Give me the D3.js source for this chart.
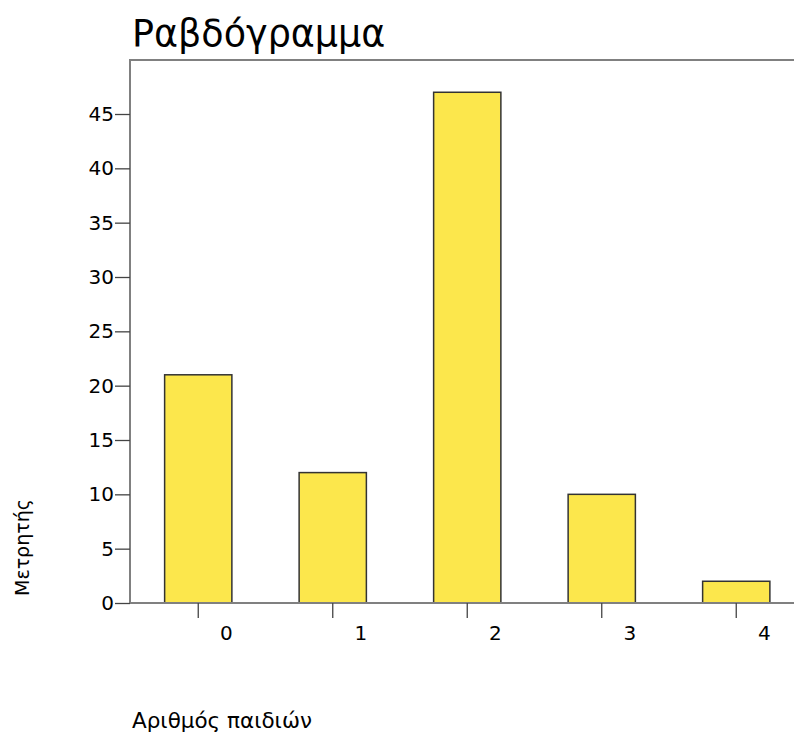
<!DOCTYPE html>
<html><head><meta charset="utf-8">
<script src="https://cdn.jsdelivr.net/npm/d3@7"></script>
<style>body{margin:0;background:#fff;} svg{display:block;}</style>
</head><body>
<svg id="c" width="794" height="733"></svg>
<script>
const categories = ["0","1","2","3","4"];
const counts = [21, 12, 47, 10, 2];
const yTicks = [0,5,10,15,20,25,30,35,40,45];
const title = "Ραβδόγραμμα";
const yLabel = "Μετρητής";
const xLabel = "Αριθμός παιδιών";

(function(){
const svg = d3.select("#c");
const font = "DejaVu Sans, Verdana, sans-serif";
const mLeft = 130, mTop = 60, mBottom = 603;
const x = d3.scaleBand().domain(categories).range([mLeft + 1, mLeft + 1 + 5*134.5]).paddingInner(0.5).paddingOuter(0.25);
const y = d3.scaleLinear().domain([0, 45]).range([mBottom, 114]);

svg.append("path").attr("d", `M${mLeft},${mBottom}V${mTop}H794`).attr("fill","none").attr("stroke","#808080").attr("stroke-width",2);

svg.selectAll("rect.bar").data(counts).join("rect")
  .attr("x",(d,i)=>x(categories[i])).attr("width",x.bandwidth())
  .attr("y",d=>y(d)).attr("height",d=>mBottom-y(d))
  .attr("fill","#fce74c").attr("stroke","#333").attr("stroke-width",1.5);

svg.append("line").attr("x1",mLeft).attr("x2",794).attr("y1",mBottom).attr("y2",mBottom).attr("stroke","#808080").attr("stroke-width",2);

const yAxis = d3.axisLeft(y).tickValues(yTicks).tickSize(15).tickPadding(1);
const gy = svg.append("g").attr("transform",`translate(${mLeft},0)`).call(yAxis);
gy.select(".domain").remove();
gy.selectAll(".tick line").attr("stroke","#444").attr("stroke-width",1.3);
gy.selectAll(".tick text").attr("font-family",font).attr("font-size",20).attr("fill","#000");

const xAxis = d3.axisBottom(x).tickSize(15).tickPadding(8);
const gx = svg.append("g").attr("transform",`translate(0,${mBottom})`).call(xAxis);
gx.select(".domain").remove();
gx.selectAll(".tick line").attr("stroke","#444").attr("stroke-width",1.3);
gx.selectAll(".tick text").attr("font-family",font).attr("font-size",20).attr("fill","#000").attr("dx",28);

svg.append("text").attr("x",132).attr("y",46).attr("font-family",font).attr("font-size",36.5).attr("fill","#000").text(title);
svg.append("text").attr("transform","translate(29,596) rotate(-90)").attr("font-family",font).attr("font-size",19).attr("fill","#000").text(yLabel);
svg.append("text").attr("x",132).attr("y",728).attr("font-family",font).attr("font-size",21.5).attr("fill","#000").text(xLabel);
})();
</script>
</body></html>
